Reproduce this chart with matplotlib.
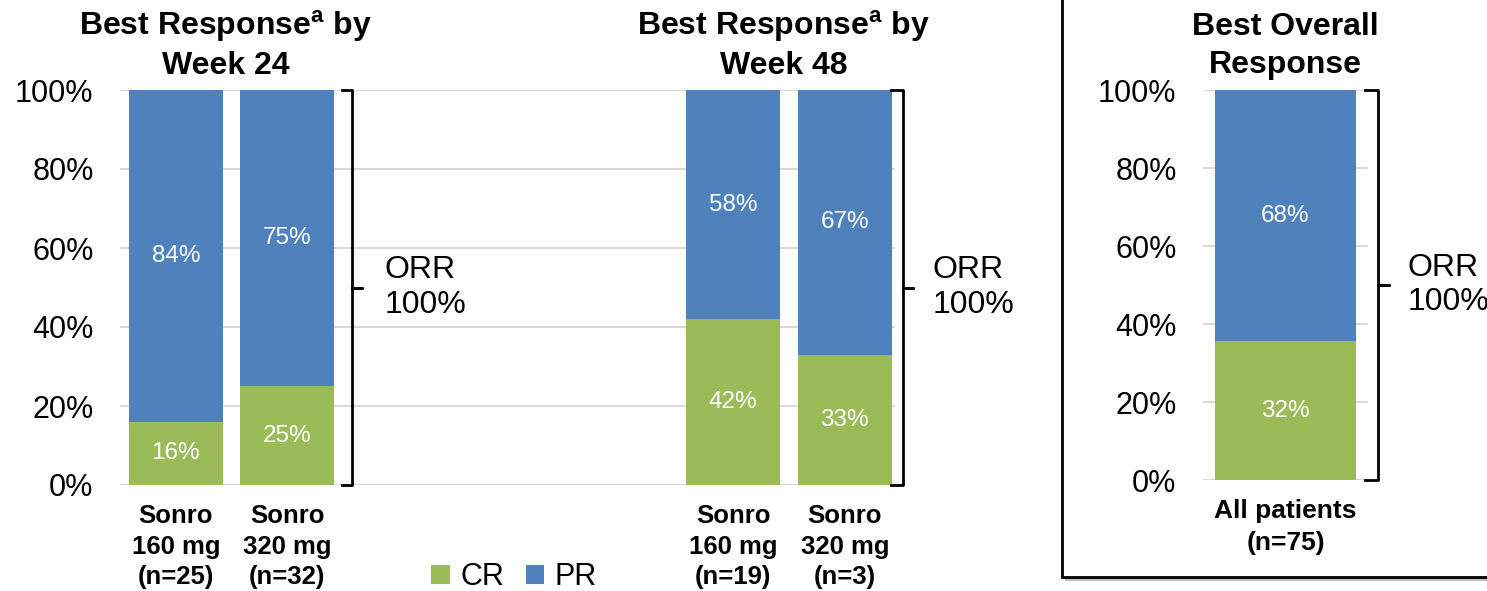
import numpy as np
import matplotlib.pyplot as plt
from matplotlib.patches import Rectangle
import matplotlib.transforms as mtransforms

plt.rcParams['font.family'] = ['Liberation Sans', 'DejaVu Sans']
plt.rcParams['mathtext.fontset'] = 'custom'
plt.rcParams['mathtext.rm'] = 'Liberation Sans'
plt.rcParams['mathtext.bf'] = 'Liberation Sans:bold'

# data
groups = ['Sonro\n160 mg\n(n=25)', 'Sonro\n320 mg\n(n=32)',
          'Sonro\n160 mg\n(n=19)', 'Sonro\n320 mg\n(n=3)']
group_pos = [0, 1, 5, 6]
cr = [16, 25, 42, 33]
pr = [84, 75, 58, 67]
cr_labels = ['16%', '25%', '42%', '33%']
pr_labels = ['84%', '75%', '58%', '67%']

overall_group = ['All patients\n(n=75)']
overall_cr = [35.6]   # bar as drawn in the source
overall_pr = [64.4]
overall_cr_labels = ['32%']
overall_pr_labels = ['68%']

yticks = [0, 20, 40, 60, 80, 100]
ytick_labels = ['0%', '20%', '40%', '60%', '80%', '100%']

green = '#9BBB59'
blue = '#4F81BD'
grid_c = '#D9D9D9'

W, H = 1487, 591
fig = plt.figure(figsize=(W / 100, H / 100), dpi=100)

# boxed right panel with a thin shadow
fig.patches.append(Rectangle((1065 / W, 1 - 581 / H), 0.5, 0.2 + 581 / H, transform=fig.transFigure,
                             facecolor='#BFBFBF', edgecolor='none', zorder=-2))
fig.patches.append(Rectangle((1062 / W, 1 - 577 / H), 0.5, 0.1 + 577 / H, transform=fig.transFigure,
                             facecolor='white', edgecolor='black', linewidth=2, zorder=-1))


def style(ax):
    ax.set_ylim(0, 100)
    ax.set_yticks(yticks)
    ax.set_yticklabels(ytick_labels, fontsize=22)
    ax.yaxis.grid(True, color=grid_c, linewidth=1.5)
    ax.set_axisbelow(True)
    for s in ax.spines.values():
        s.set_visible(False)
    ax.tick_params(axis='y', length=0, pad=19)
    ax.tick_params(axis='x', length=0, pad=14)
    ax.patch.set_alpha(0)
    ax.set_zorder(2)


def bracket(ax, x0, x1, x2, tx):
    ax.plot([x0, x1, x1, x2, x1, x1, x0], [100, 100, 50, 50, 50, 0, 0],
            color='black', lw=2, clip_on=False, solid_joinstyle='round')
    ax.text(tx, 50, 'ORR\n100%', fontsize=23, va='center', ha='left', linespacing=1.2)


# left axes: week 24 and week 48
ax = fig.add_axes([120 / W, 1 - 485 / H, (895 - 120) / W, (485 - 90) / H])
b1 = ax.bar(group_pos, cr, width=0.84, color=green, label='CR')
b2 = ax.bar(group_pos, pr, width=0.84, bottom=cr, color=blue, label='PR')
for x, c, p, cl, pl in zip(group_pos, cr, pr, cr_labels, pr_labels):
    ax.text(x, c / 2, cl, color='white', fontsize=17.5, ha='center', va='center')
    ax.text(x, c + p / 2, pl, color='white', fontsize=17.5, ha='center', va='center')
ax.set_xlim(-0.5, 6.45)
ax.set_xticks(group_pos)
ax.set_xticklabels(groups, fontsize=18.5, fontweight='bold', linespacing=1.32)
style(ax)
trans = mtransforms.blended_transform_factory(ax.transData, ax.transAxes)
ax.text(0.45, 1.022, 'Best Response$^{\\mathbf{a}}$ by\nWeek 24', transform=trans,
        ha='center', va='bottom', fontsize=23, fontweight='bold', linespacing=1.3)
ax.text(5.45, 1.022, 'Best Response$^{\\mathbf{a}}$ by\nWeek 48', transform=trans,
        ha='center', va='bottom', fontsize=23, fontweight='bold', linespacing=1.3)
bracket(ax, 1.49, 1.58, 1.67, 1.87)
bracket(ax, 6.41, 6.52, 6.61, 6.79)

fig.legend(handles=[b1, b2], labels=['CR', 'PR'], loc='center', bbox_to_anchor=(514 / W, 1 - 577 / H),
           ncol=2, frameon=False, fontsize=22, handlelength=0.6, handleheight=0.6,
           handletextpad=0.35, columnspacing=0.7)

# right axes: best overall response
ax2 = fig.add_axes([1203 / W, 1 - 480 / H, (1368 - 1203) / W, (480 - 90) / H])
ax2.bar([0], overall_cr, width=0.855, color=green)
ax2.bar([0], overall_pr, width=0.855, bottom=overall_cr, color=blue)
ax2.text(0, overall_cr[0] / 2, overall_cr_labels[0], color='white', fontsize=17.5, ha='center', va='center')
ax2.text(0, overall_cr[0] + overall_pr[0] / 2, overall_pr_labels[0], color='white', fontsize=17.5,
         ha='center', va='center')
ax2.set_xlim(-0.5, 0.5)
ax2.set_xticks([0])
ax2.set_xticklabels(overall_group, fontsize=19, fontweight='bold', linespacing=1.4)
style(ax2)
ax2.set_title('Best Overall\nResponse', fontsize=23, fontweight='bold', pad=12, linespacing=1.35)
bracket(ax2, 0.48, 0.56, 0.63, 0.74)

fig.savefig('out.png', dpi=100)
